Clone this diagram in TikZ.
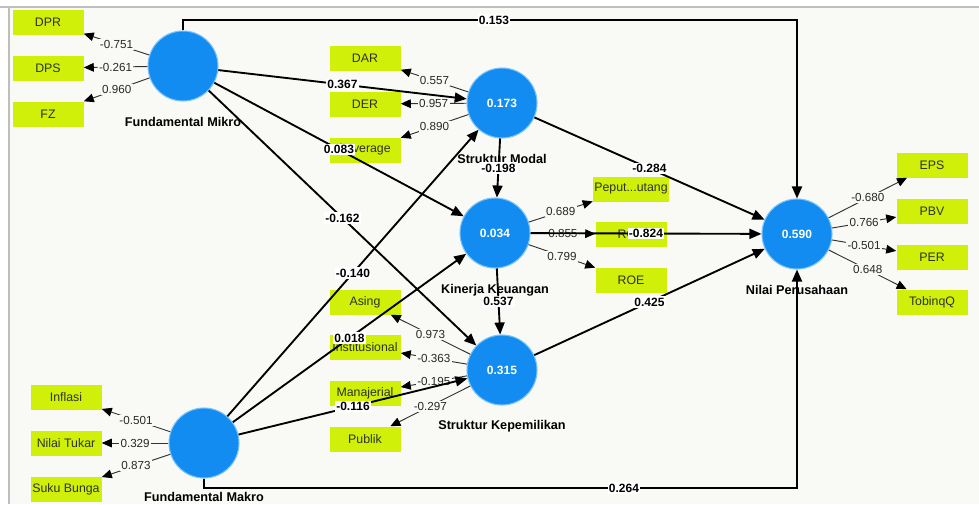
\documentclass[tikz,border=0pt]{standalone}
\usepackage{fontspec}
\setmainfont{Liberation Sans}
\usetikzlibrary{arrows.meta}
\definecolor{canvas}{RGB}{249,249,246}
\definecolor{frame}{RGB}{190,190,190}
\definecolor{lvblue}{RGB}{18,140,240}
\definecolor{lvrim}{RGB}{120,195,250}
\definecolor{indgreen}{RGB}{208,240,10}
\definecolor{indtext}{RGB}{45,50,35}
\definecolor{loadtext}{RGB}{40,40,40}
\definecolor{thinline}{RGB}{50,50,50}
\tikzset{
  lv/.style={circle, minimum size=52.5pt, inner sep=0pt, fill=lvblue, draw=lvrim, line width=0.8pt,
    text=white, font=\fontsize{9}{10}\selectfont\bfseries},
  lvname/.style={font=\fontsize{9.5}{11}\selectfont\bfseries, text=black, inner sep=0pt},
  ind/.style={rectangle, minimum width=53.25pt, minimum height=18.75pt, inner xsep=1pt, fill=indgreen,
    text=indtext, font=\fontsize{9.25}{10}\selectfont},
  outer/.style={draw=thinline, line width=0.7pt, -{Triangle[length=7.5pt,width=6.5pt,fill=black,color=black]}},
  struct/.style={draw=black, line width=1.4pt, -{Triangle[length=9pt,width=7.5pt]}},
  ll/.style={fill=canvas, inner sep=1pt, text=loadtext, font=\fontsize{8.75}{9}\selectfont},
  sl/.style={fill=white, inner sep=1pt, text=black, font=\fontsize{9}{10}\selectfont\bfseries}
}
\begin{document}
\begin{tikzpicture}[x=0.75pt,y=-0.75pt]
\useasboundingbox (0,0) rectangle (979,504);
% window background and frame
\fill[white] (0,0) rectangle (979,504);
\fill[canvas] (9,8) rectangle (979,504);
\draw[frame, line width=1.5pt] (0,7) -- (979,7);
\draw[frame, line width=1.5pt] (8.5,7) -- (8.5,504);

% latent variables
\node[lv] (fmikro) at (183,66) {};
\node[lv] (sm) at (502,103) {0.173};
\node[lv] (kk) at (495,233) {0.034};
\node[lv] (sk) at (502,370) {0.315};
\node[lv] (np) at (797,234) {0.590};
\node[lv] (fmakro) at (204,443) {};

\node[lvname] (nfmikro) at (183,122) {Fundamental Mikro};
\node[lvname] (nsm) at (502,159) {Struktur Modal};
\node[lvname] (nkk) at (495,290) {Kinerja Keuangan};
\node[lvname] (nsk) at (502,426) {Struktur Kepemilikan};
\node[lvname] (nnp) at (797,290) {Nilai Perusahaan};
\node[lvname] (nfmakro) at (204,497) {Fundamental Makro};

% indicators
\node[ind] (dpr) at (48,22) {DPR};
\node[ind] (dps) at (48,68) {DPS};
\node[ind] (fz) at (48,114) {FZ};
\node[ind] (dar) at (365,58) {DAR};
\node[ind] (der) at (365,104) {DER};
\node[ind] (lev) at (365,150) {Leverage};
\node[ind] (peput) at (631,189) {Peput...utang};
\node[ind] (roa) at (631,234) {ROA};
\node[ind] (roe) at (631,280) {ROE};
\node[ind] (eps) at (932,165) {EPS};
\node[ind] (pbv) at (932,211) {PBV};
\node[ind] (per) at (932,257) {PER};
\node[ind] (tobin) at (932,302) {TobinqQ};
\node[ind] (asing) at (365,302) {Asing};
\node[ind] (inst) at (365,347) {Institusional};
\node[ind] (manaj) at (365,393) {Manajerial};
\node[ind] (publik) at (365,439) {Publik};
\node[ind] (inflasi) at (66,397) {Inflasi};
\node[ind] (tukar) at (66,443) {Nilai Tukar};
\node[ind] (suku) at (66,489) {Suku Bunga};

% outer loadings
\draw[outer] (fmikro) -- node[ll]{-0.751} (dpr);
\draw[outer] (fmikro) -- node[ll]{-0.261} (dps);
\draw[outer] (fmikro) -- node[ll]{0.960} (fz);
\draw[outer] (sm) -- node[ll]{0.557} (dar);
\draw[outer] (sm) -- node[ll]{0.957} (der);
\draw[outer] (sm) -- node[ll]{0.890} (lev);
\draw[outer] (kk) -- node[ll]{0.689} (peput);
\draw[outer] (kk) -- node[ll]{0.855} (roa);
\draw[outer] (kk) -- node[ll]{0.799} (roe);
\draw[outer] (np) -- node[ll]{-0.680} (eps);
\draw[outer] (np) -- node[ll]{0.766} (pbv);
\draw[outer] (np) -- node[ll]{-0.501} (per);
\draw[outer] (np) -- node[ll]{0.648} (tobin);
\draw[outer] (sk) -- node[ll]{0.973} (asing);
\draw[outer] (sk) -- node[ll]{-0.363} (inst);
\draw[outer] (sk) -- node[ll]{-0.195} (manaj);
\draw[outer] (sk) -- node[ll]{-0.297} (publik);
\draw[outer] (fmakro) -- node[ll]{-0.501} (inflasi);
\draw[outer] (fmakro) -- node[ll]{0.329} (tukar);
\draw[outer] (fmakro) -- node[ll]{0.873} (suku);

% structural paths
\coordinate (topc) at (797,20);
\coordinate (botc) at (797,488);
\draw[struct] (fmikro.north) |- (topc) -- (np.north);
\node[sl] (l153) at (494,20) {0.153};
\draw[struct] (fmakro.south) |- (botc) -- (np.south);
\node[sl] (l264) at (624,488) {0.264};

\draw[struct] (fmikro) -- node[sl]{0.367} (sm);
\draw[struct] (fmikro) -- node[sl]{0.083} (kk);
\draw[struct] (fmikro) -- node[sl]{-0.162} (sk);
\draw[struct] (fmakro) -- node[sl]{-0.140} (sm);
\draw[struct] (fmakro) -- node[sl]{0.018} (kk);
\draw[struct] (fmakro) -- node[sl]{-0.116} (sk);
\draw[struct] (sm) -- node[sl]{-0.198} (kk);
\draw[struct] (sm) -- node[sl]{-0.284} (np);
\draw[struct] (kk) -- node[sl]{-0.824} (np);
\draw[struct] (kk) -- node[sl]{0.537} (sk);
\draw[struct] (sk) -- node[sl]{0.425} (np);
\end{tikzpicture}
\end{document}
